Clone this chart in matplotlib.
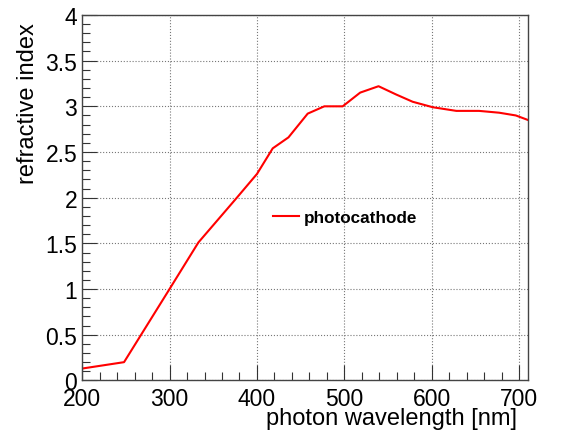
import matplotlib
matplotlib.use('Agg')
import matplotlib.pyplot as plt
from matplotlib.ticker import MultipleLocator

plt.rcParams['font.family'] = ['Liberation Sans', 'DejaVu Sans']

# photocathode refractive index vs wavelength
wavelength = [200, 248, 300, 333, 377, 400, 418, 436, 458, 477, 498,
              518, 539, 559, 578, 601, 628, 654, 677, 696, 710]
refr_index = [0.13, 0.20, 1.00, 1.51, 2.00, 2.26, 2.54, 2.66, 2.92, 3.00, 3.00,
              3.15, 3.22, 3.13, 3.05, 2.99, 2.95, 2.95, 2.93, 2.90, 2.85]

fig = plt.figure(figsize=(5.66, 4.31), dpi=100)
ax = fig.add_axes([0.145, 0.115, 0.788, 0.848])

ax.plot(wavelength, refr_index, color='#ff0000', lw=1.5, label='photocathode')

ax.set_xlim(200, 710)
ax.set_ylim(0, 4)
ax.xaxis.set_major_locator(MultipleLocator(100))
ax.xaxis.set_minor_locator(MultipleLocator(20))
ax.yaxis.set_major_locator(MultipleLocator(0.5))
ax.yaxis.set_minor_locator(MultipleLocator(0.1))
ax.yaxis.set_major_formatter(plt.FuncFormatter(lambda v, p: '%g' % v))

ax.tick_params(which='both', direction='in', top=False, right=False,
               labelsize=16.5, color='#333333')
ax.tick_params(which='major', length=11, width=0.8)
ax.tick_params(which='minor', length=6, width=0.8)
ax.tick_params(axis='x', pad=4.5)
ax.tick_params(axis='y', pad=3.5)

for s in ax.spines.values():
    s.set_color('#444444')
    s.set_linewidth(1.0)

ax.grid(True, which='major', color='#777777', linestyle=':', lw=0.8)

# ROOT-style axis titles, pushed to the far end of each axis
ax.set_xlabel('photon wavelength [nm]', fontsize=17, loc='right')
ax.xaxis.set_label_coords(0.976, -0.074)
ax.set_ylabel('refractive index', fontsize=17, loc='top')
ax.yaxis.set_label_coords(-0.096, 0.981)

ax.legend(loc='center left', bbox_to_anchor=(0.428, 0.445), frameon=False,
          borderpad=0, borderaxespad=0, handlelength=1.5, handletextpad=0.3,
          prop={'weight': 'bold', 'size': 12.3})

fig.savefig('out.png', dpi=100)
